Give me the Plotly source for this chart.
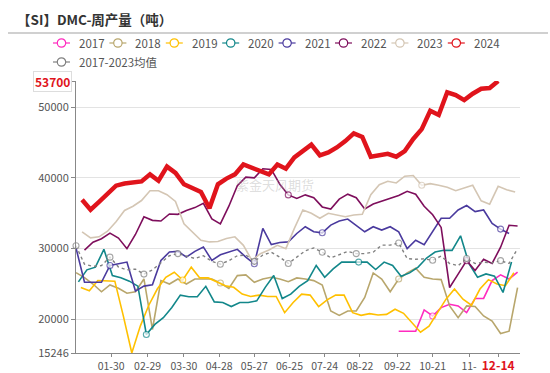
import pandas as pd
import plotly.graph_objects as go

title_text = "【SI】DMC-周产量（吨）"
watermark = "紫金天风期货"

names = ["2017", "2018", "2019", "2020", "2021", "2022", "2023", "2024", "2017-2023均值"]
colors = ["#FF2BBF", "#B8A66C", "#FFC000", "#12878A", "#4A3A9E", "#7E0E5C", "#D4C6B4", "#E0141C", "#808080"]
# first week (month-day, mapped on the 2024 calendar) of each series
starts = ["09-23", "01-01", "01-05", "01-03", "01-01", "01-08", "01-06", "01-06", "01-01"]

v2017 = [18330, 18330, 18330, 21330, 20480, 21670, 22140, 21900, 20950, 22960, 22960, 25480, 26290, 25710, 26670]
v2018 = [26600, 25900, 25000, 23900, 24860, 24400, 23700, 23900, 25710, 18570,
         25480, 25000, 25710, 25000, 25710, 25710, 25710, 25140, 24380, 26190,
         26290, 25240, 25710, 25950, 25710, 25330, 25860, 25710, 25480, 24860,
         21190, 20570, 21190, 21190, 23100, 26570, 25710, 23900, 25710, 26570,
         27240, 25950, 25710, 25620, 21900, 20240, 21900, 21810, 20480, 19760,
         18000, 18330, 24500]
v2019 = [24500, 24050, 25500, 25400, 25400, 20500, 15246, 19050, 22000, 24290,
         25950, 26670, 25570, 27380, 25860, 25860, 25330, 24760, 24530, 23570,
         23240, 23430, 23240, 23240, 20950, 22380, 23570, 23430, 21810, 22760,
         23430, 23430, 20950, 20570, 20810, 20620, 20710, 21430, 20860, 19520,
         18190, 19050, 20950, 22860, 24290, 22860, 22000, 24290, 25620, 25000,
         24760, 26600]
v2020 = [25300, 27000, 27380, 29900, 26200, 25900, 25400, 24700, 17860, 19290,
         20240, 21670, 23430, 23190, 23190, 24670, 22470, 22380, 21810, 22380,
         22380, 22620, 24530, 26190, 22950, 23570, 24670, 25480, 27620, 25950,
         27140, 28100, 28100, 28100, 28100, 27050, 28100, 27620, 26100, 26570,
         27380, 28670, 29520, 29760, 29760, 31810, 27860, 25950, 26430, 26100,
         23810, 28100]
v2021 = [30100, 25240, 25240, 25240, 27620, 27860, 28100, 24000, 24700, 24900,
         28330, 29520, 29620, 28810, 29620, 30240, 28330, 29140, 29520, 29900,
         28810, 27860, 32860, 30570, 30860, 30950, 32140, 33100, 32380, 32240,
         33330, 33900, 34190, 33330, 32380, 33100, 32620, 33100, 32380, 30000,
         31190, 30570, 32380, 34290, 34290, 35470, 36100, 35240, 35470, 33570,
         32760, 32140]
v2022 = [29800, 30900, 31400, 32200, 31500, 30000, 32000, 34500, 34000, 33900,
         34900, 34850, 35400, 35800, 36400, 34200, 33500, 36000, 38900, 40100,
         40000, 41300, 41200, 39100, 37600, 37100, 37600, 37200, 35900, 35600,
         37000, 37700, 37200, 35600, 36300, 36700, 37000, 37500, 38100, 37700,
         36000, 34800, 33000, 24500, 26400, 28300, 26900, 28500, 27900, 30200,
         33300, 33200]
v2023 = [32380, 31530, 31670, 32470, 33810, 35400, 36000, 36800, 38190, 38190,
         37620, 36670, 33500, 32380, 31190, 30950, 31000, 31430, 31670, 30470,
         28330, 29290, 29800, 30470, 30000, 32860, 35470, 35000, 34290, 35000,
         34760, 34520, 34760, 34860, 37620, 39040, 39520, 39290, 40240, 40330,
         38960, 39190, 38960, 38670, 38190, 38570, 38960, 36760, 36290, 38810,
         38330, 38000]
v2024 = [36900, 35500, 36600, 37800, 38900, 39200, 39400, 39500, 40500, 39600,
         41600, 40700, 39100, 38600, 38000, 35700, 39100, 39900, 40500, 41900,
         41400, 41000, 40500, 41900, 41300, 42900, 43800, 44700, 43200, 43600,
         44300, 45200, 46300, 45800, 43000, 43200, 43400, 43000, 43800, 45500,
         46900, 49500, 48900, 52100, 51700, 51000, 51900, 52600, 52700, 53700]
vavg = [30400, 27800, 27500, 27600, 28800, 27400, 27000, 27100, 26400, 27000,
        28000, 29000, 29300, 29000, 28600, 29000, 28200, 27800, 28300, 29000,
        29100, 28200, 29100, 29500, 28800, 27900, 28800, 29700, 30100, 29500,
        28700, 29200, 29600, 29300, 29300, 29500, 30500, 30500, 30800, 28600,
        28500, 28550, 28350, 28950, 27900, 27600, 28600, 27900, 28100, 28000,
        28300, 27900, 30000]
values = [v2017, v2018, v2019, v2020, v2021, v2022, v2023, v2024, vavg]

# points where the reference shows a hollow symbol
symbol_idx = [[4], [17, 38], [12], [8, 33], [4, 21, 29, 50], [24, 45], [40], [],
              [0, 4, 8, 12, 17, 21, 25, 29, 33, 38, 42, 46, 50]]

tick_dates = ["01-30", "02-29", "03-30", "04-28", "05-27", "06-25", "07-24",
              "08-22", "09-22", "10-21", "11-20", "12-14"]
tick_texts = ["01-30", "02-29", "03-30", "04-28", "05-27", "06-25", "07-24",
              "08-22", "09-22", "10-21", "11-", "12-14"]
y_ticks = [15246, 20000, 30000, 40000, 50000, 53700]
y_min, y_max = 15246, 53700

W, H = 550, 373
ML, MR, MT, MB = 76, 30, 81, 20
PW, PH = W - ML - MR, H - MT - MB
FONT = "Noto Sans CJK SC, Noto Sans, sans-serif"


def px_x(p):
    return (p - ML) / PW


def px_y(p):
    return (H - MB - p) / PH


fig = go.Figure()
order = [0, 1, 2, 3, 4, 5, 6, 8, 7]
for i in order:
    vals = values[i]
    x = pd.date_range("2024-" + starts[i], periods=len(vals), freq="7D")
    sizes = [6 if k in symbol_idx[i] else 0 for k in range(len(vals))]
    is24 = names[i] == "2024"
    isavg = i == 8
    fig.add_trace(go.Scatter(
        x=x, y=vals, name=names[i], mode="lines+markers",
        line=dict(color=colors[i], width=4.5 if is24 else (1.4 if isavg else 1.6),
                  dash="dot" if isavg else "solid"),
        marker=dict(size=sizes, color="white", line=dict(color=colors[i], width=1.1)),
        showlegend=False, cliponaxis=False,
    ))

shapes = []
annotations = []

# title and separator
annotations.append(dict(xref="paper", yref="paper", x=px_x(15), y=px_y(19), xanchor="left",
                        yanchor="middle", text="<b>" + title_text + "</b>", showarrow=False,
                        font=dict(family=FONT, size=13.5, color="#333333")))
shapes.append(dict(type="line", xref="paper", yref="paper", x0=px_x(8), x1=px_x(548),
                   y0=px_y(33), y1=px_y(33), line=dict(color="#d0d0d0", width=2)))

# custom legend
for i, nm in enumerate(names):
    row = 0 if i < 8 else 1
    col = i if i < 8 else 0
    x0 = 53 + 56.4 * col
    cy = 43 if row == 0 else 62
    shapes.append(dict(type="line", xref="paper", yref="paper", x0=px_x(x0), x1=px_x(x0 + 17),
                       y0=px_y(cy), y1=px_y(cy), line=dict(color=colors[i], width=1.2)))
    shapes.append(dict(type="circle", xref="paper", yref="paper",
                       x0=px_x(x0 + 8.5 - 4.2), x1=px_x(x0 + 8.5 + 4.2),
                       y0=px_y(cy + 4.2), y1=px_y(cy - 4.2),
                       fillcolor="white", line=dict(color=colors[i], width=1.2)))
    annotations.append(dict(xref="paper", yref="paper", x=px_x(x0 + 24), y=px_y(cy),
                            xanchor="left", yanchor="middle", text=nm, showarrow=False,
                            font=dict(family=FONT, size=11.5, color="#555555")))

# watermark
annotations.append(dict(xref="paper", yref="paper", x=px_x(275), y=px_y(184), text=watermark,
                        showarrow=False, font=dict(family=FONT, size=13, color="rgba(170,170,170,0.4)")))

# highlighted max label
annotations.append(dict(xref="paper", yref="y", x=px_x(72), y=y_max, xanchor="right",
                        yanchor="middle", text="<b>53700</b>", showarrow=False,
                        font=dict(family=FONT, size=12, color="#E0141C"),
                        bgcolor="white", bordercolor="#dddddd", borderwidth=1, borderpad=1))

fig.update_layout(
    width=W, height=H, autosize=False,
    margin=dict(l=ML, r=MR, t=MT, b=MB, autoexpand=False),
    paper_bgcolor="white", plot_bgcolor="white",
    shapes=shapes, annotations=annotations,
    font=dict(family=FONT, size=11, color="#555555"),
)
fig.update_xaxes(
    type="date", range=["2024-01-01", "2025-01-01"], automargin=False,
    tickvals=["2024-" + d for d in tick_dates],
    ticktext=tick_texts[:-1] + ["<b><span style='color:#E0141C;font-size:12px'>" + tick_texts[-1] + "</span></b>"],
    showgrid=False, showline=True, linecolor="#888888", linewidth=1,
    ticks="outside", ticklen=3, tickcolor="#888888",
    tickfont=dict(family=FONT, size=10.5, color="#555555"), zeroline=False,
)
fig.update_yaxes(
    range=[y_min, y_max], tickvals=y_ticks, automargin=False,
    ticktext=[str(v) for v in y_ticks[:-1]] + [""],
    showgrid=True, gridcolor="#e3e3e3", gridwidth=1,
    showline=True, linecolor="#888888", linewidth=1,
    ticks="outside", ticklen=4, tickcolor="#888888",
    tickfont=dict(family=FONT, size=11, color="#555555"), zeroline=False,
)

fig.write_html("out.html", config={"displayModeBar": False},
               post_script="document.body.style.margin='0px';document.body.style.overflow='hidden';")
